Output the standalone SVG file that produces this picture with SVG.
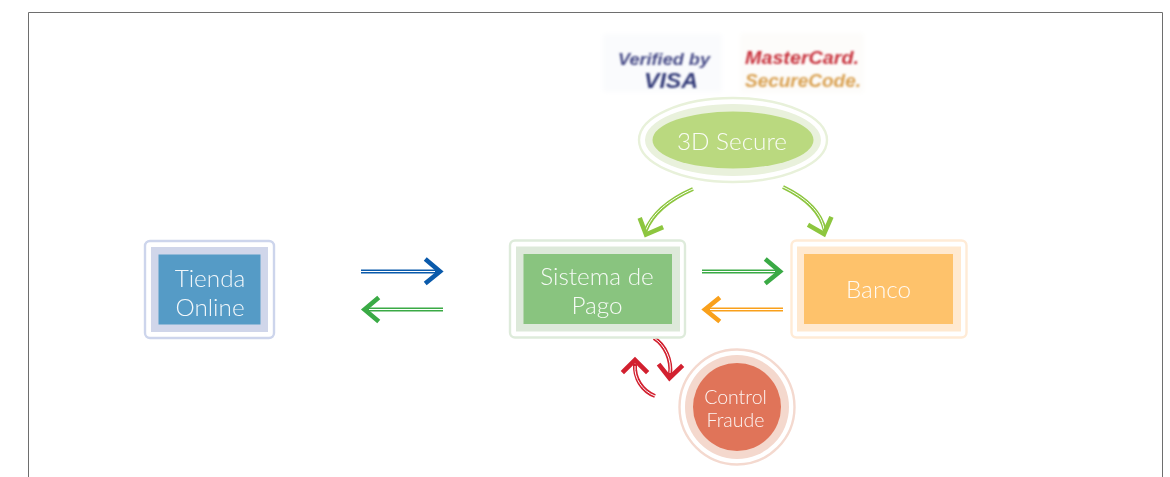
<svg xmlns="http://www.w3.org/2000/svg" width="1170" height="477" viewBox="0 0 1170 477">
<style>
.t{font-family:"Lato","Open Sans","Liberation Sans",sans-serif;font-weight:300;fill:#fff;text-anchor:middle;opacity:.92}
.big{font-size:24.300px}
.sm{font-size:19.500px}
.sh{fill:none;stroke-width:4}
.in{fill:none;stroke:#fff;stroke-width:1}
.hd{fill:none;stroke-width:4.600;stroke-linecap:square;stroke-linejoin:miter}
.logo{font-family:"Liberation Sans",Arial,sans-serif;font-weight:700;font-style:italic;text-anchor:middle}
</style>
<defs>
<filter id="b" x="-10%" y="-20%" width="120%" height="140%"><feGaussianBlur stdDeviation="0.9"/></filter>
<filter id="s" x="-10%" y="-10%" width="120%" height="120%"><feGaussianBlur stdDeviation="2.500"/></filter>
</defs>
<path d="M28.500 477V12.500H1162.500V477" fill="none" stroke="#6e6e6e" stroke-width="1"/>
<g id="logos">
<rect x="603" y="34" width="119" height="58" fill="#fafbfd" filter="url(#s)"/>
<rect x="740" y="33" width="124" height="60" fill="#fdfcfa" filter="url(#s)"/>
<g filter="url(#b)">
<text class="logo" x="664" y="65" font-size="17" fill="#454a86" textLength="92" lengthAdjust="spacingAndGlyphs">Verified by</text>
<text class="logo" x="671" y="88" font-size="22" fill="#333a78" textLength="54" lengthAdjust="spacingAndGlyphs">VISA</text>
<text class="logo" x="802" y="64" font-size="19" fill="#c8323c" textLength="114" lengthAdjust="spacingAndGlyphs">MasterCard.</text>
<text class="logo" x="803" y="87" font-size="19" fill="#d9a050" textLength="116" lengthAdjust="spacingAndGlyphs">SecureCode.</text>
</g>
</g>
<g id="connectors">
<g stroke="#0a5aab"><path class="sh" d="M361 271.500H437"/><path class="in" d="M361 271.500H435"/><path class="hd" d="M427 260.500L440 271.500L427 282"/></g>
<g stroke="#3aaa45"><path class="sh" d="M443 309.500H367"/><path class="in" d="M443 309.500H369"/><path class="hd" d="M377 299L364.500 309.500L377 320"/></g>
<g stroke="#3aaa45"><path class="sh" d="M702 271.500H777"/><path class="in" d="M702 271.500H775"/><path class="hd" d="M767 260.500L780 271.500L767 282"/></g>
<g stroke="#f9a01b"><path class="sh" d="M783 309.500H708"/><path class="in" d="M783 309.500H710"/><path class="hd" d="M718 299L705 309.500L718 320"/></g>
<g stroke="#8dc63f"><path class="sh" d="M693 189C668 200 652 214 645 232"/><path class="in" d="M693 189C668 200 652 214 646 230"/><path class="hd" d="M640.500 220L646 234.500L661 228"/></g>
<g stroke="#8dc63f"><path class="sh" d="M783 187C806 198 821 212 825 231"/><path class="in" d="M783 187C806 198 821 212 824 229"/><path class="hd" d="M810 226L824 234L830.500 219"/></g>
<g stroke="#d2202f"><path class="sh" d="M654 338C665 345 672 360 670 375"/><path class="in" d="M654 338C665 345 672 360 670 373"/><path class="hd" d="M660 366L669.500 378L681 367"/></g>
<g stroke="#d2202f"><path class="sh" d="M655 396C642 391 634 378 635 364"/><path class="in" d="M655 396C642 391 634 378 635 366"/><path class="hd" d="M624 371L635 360L646 371"/></g>
</g>
<g id="tienda">
<rect x="145" y="241" width="129" height="97" rx="5" fill="#fff" stroke="#cdd5ec" stroke-width="2.400"/>
<rect x="151" y="247" width="117" height="85" fill="#d0d6ea"/>
<rect x="158.500" y="254.500" width="102" height="70" fill="#559bc6"/>
<text class="t big" x="210" y="287">Tienda</text>
<text class="t big" x="210" y="316">Online</text>
</g>
<g id="pago">
<rect x="510" y="240.500" width="175" height="97" rx="5" fill="#fff" stroke="#deebdb" stroke-width="2.400"/>
<rect x="516" y="246.500" width="164" height="85" fill="#dde9da"/>
<rect x="523.500" y="254" width="148.500" height="70" fill="#89c47f"/>
<text class="t big" x="597" y="285">Sistema de</text>
<text class="t big" x="597" y="314">Pago</text>
</g>
<g id="banco">
<rect x="791.500" y="240.500" width="175" height="97" rx="5" fill="#fff" stroke="#ffebd6" stroke-width="2.400"/>
<rect x="797" y="246.500" width="164" height="85" fill="#ffe9d0"/>
<rect x="804" y="254" width="149" height="70" fill="#fec26b"/>
<text class="t big" x="878.500" y="298">Banco</text>
</g>
<g id="secure">
<ellipse cx="733" cy="140" rx="94" ry="42" fill="#fff" stroke="#e8f1da" stroke-width="2.400"/>
<ellipse cx="733" cy="140" rx="88" ry="36" fill="#e9f1dc"/>
<ellipse cx="733" cy="140" rx="80.500" ry="28.500" fill="#bad97f"/>
<text class="t big" x="732" y="150">3D Secure</text>
</g>
<g id="fraude">
<circle cx="737" cy="407" r="57.500" fill="#fff" stroke="#f4d9cf" stroke-width="2.400"/>
<circle cx="737" cy="407" r="52" fill="#f4d8cd"/>
<circle cx="737" cy="407" r="44" fill="#e07459"/>
<text class="t sm" x="735.500" y="404">Control</text>
<text class="t sm" x="735.500" y="427">Fraude</text>
</g>
</svg>
